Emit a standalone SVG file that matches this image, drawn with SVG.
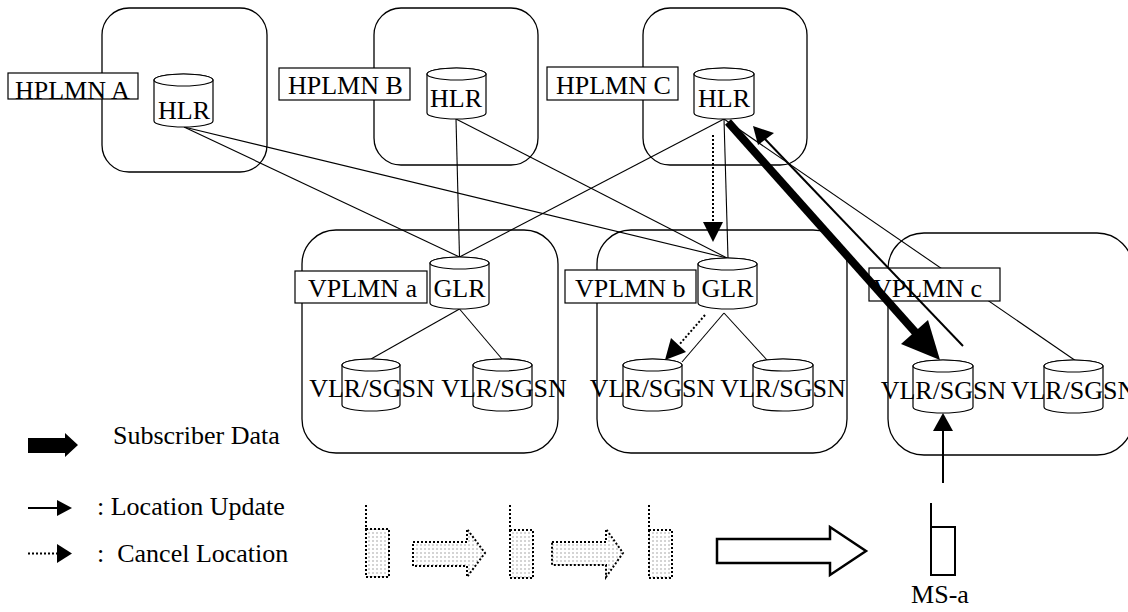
<svg xmlns="http://www.w3.org/2000/svg" width="1128" height="612" viewBox="0 0 1128 612">
<style>
text{font-family:"Liberation Serif","Times New Roman",serif;font-size:26px;fill:#000}
.c{text-anchor:middle}
.region{fill:none;stroke:#000;stroke-width:1.3}
.lbl{fill:#fff;stroke:#000;stroke-width:1.2}
.cyl{fill:#fff;stroke:#000;stroke-width:1.2}
.ln{stroke:#000;stroke-width:1.1;fill:none}
.thin{stroke:#000;stroke-width:2;fill:none}
.dot{stroke:#000;stroke-width:2;stroke-dasharray:2 2;fill:none}
.ah{fill:#000;stroke:none}
.ph{fill:url(#dots);stroke:#000;stroke-width:2;stroke-dasharray:2 2}
</style>
<defs>
<pattern id="dots" width="4" height="4" patternUnits="userSpaceOnUse">
<rect width="4" height="4" fill="#fff"/>
<circle cx="1" cy="1" r="0.7" fill="#888"/>
</pattern>
</defs>
<rect width="1128" height="612" fill="#fff"/>

<g id="regions">
<rect id="hplmnA-box" class="region" x="102" y="8" width="165" height="164" rx="27"/>
<rect id="hplmnB-box" class="region" x="374" y="8" width="164" height="157" rx="27"/>
<rect id="hplmnC-box" class="region" x="643" y="8" width="164" height="157" rx="27"/>
<rect id="vplmna-box" class="region" x="302" y="230" width="256" height="223" rx="34"/>
<rect id="vplmnb-box" class="region" x="597" y="230" width="250" height="223" rx="34"/>
<rect id="vplmnc-box" class="region" x="888" y="233" width="245" height="222" rx="36"/>
</g>

<g id="connectors">
<line class="ln" x1="184" y1="127" x2="459.5" y2="257"/>
<line class="ln" x1="184" y1="127" x2="727" y2="258"/>
<line class="ln" x1="456" y1="119" x2="459.5" y2="257"/>
<line class="ln" x1="456" y1="119" x2="727" y2="258"/>
<line class="ln" x1="724" y1="119" x2="459.5" y2="257"/>
<line class="ln" x1="724" y1="119" x2="728" y2="258"/>
<line class="ln" x1="724" y1="119" x2="1076" y2="361"/>
<line class="ln" x1="459.5" y1="309" x2="371" y2="359"/>
<line class="ln" x1="459.5" y1="309" x2="502" y2="359"/>
<line class="ln" x1="724" y1="313" x2="682" y2="362"/>
<line class="ln" x1="724" y1="313" x2="767" y2="360"/>
</g>

<g id="hplmnA">
<rect class="lbl" x="8" y="73" width="130" height="26"/>
<text x="15" y="99">HPLMN A</text>
</g>
<g id="hlrA">
<path class="cyl" d="M154,80 V121 A29.5,6 0 0 0 213,121 V80 A29.5,6 0 0 0 154,80 Z"/>
<ellipse class="cyl" cx="183.5" cy="80" rx="29.5" ry="6"/>
<text class="c" x="184" y="119">HLR</text>
</g>
<g id="hplmnB">
<rect class="lbl" x="279" y="68" width="131" height="32"/>
<text x="288" y="94">HPLMN B</text>
</g>
<g id="hlrB">
<path class="cyl" d="M427,74 V113 A29.5,6 0 0 0 486,113 V74 A29.5,6 0 0 0 427,74 Z"/>
<ellipse class="cyl" cx="456.5" cy="74" rx="29.5" ry="6"/>
<text class="c" x="456" y="107">HLR</text>
</g>
<g id="hplmnC">
<rect class="lbl" x="547" y="67" width="131" height="33"/>
<text x="556" y="94">HPLMN C</text>
</g>
<g id="hlrC">
<path class="cyl" d="M694,74 V113 A30,6 0 0 0 754,113 V74 A30,6 0 0 0 694,74 Z"/>
<ellipse class="cyl" cx="724" cy="74" rx="30" ry="6"/>
<text class="c" x="724" y="107">HLR</text>
</g>

<g id="vplmna">
<rect class="lbl" x="295" y="271" width="132" height="32"/>
<text x="308" y="297">VPLMN a</text>
</g>
<g id="glra">
<path class="cyl" d="M430,263 V303 A29.5,6 0 0 0 489,303 V263 A29.5,6 0 0 0 430,263 Z"/>
<ellipse class="cyl" cx="459.5" cy="263" rx="29.5" ry="6"/>
<text class="c" x="459.5" y="297">GLR</text>
</g>
<g id="vlra1">
<path class="cyl" d="M342,365 V405 A29,6 0 0 0 400,405 V365 A29,6 0 0 0 342,365 Z"/>
<ellipse class="cyl" cx="371" cy="365" rx="29" ry="6"/>
<text class="c" x="372" y="397">VLR/SGSN</text>
</g>
<g id="vlra2">
<path class="cyl" d="M473,365 V405 A29.5,6 0 0 0 532,405 V365 A29.5,6 0 0 0 473,365 Z"/>
<ellipse class="cyl" cx="502.5" cy="365" rx="29.5" ry="6"/>
<text class="c" x="504" y="397">VLR/SGSN</text>
</g>

<g id="vplmnb">
<rect class="lbl" x="565" y="270" width="131" height="33"/>
<text x="575" y="297">VPLMN b</text>
</g>
<g id="glrb">
<path class="cyl" d="M698,264 V303 A29.5,6 0 0 0 757,303 V264 A29.5,6 0 0 0 698,264 Z"/>
<ellipse class="cyl" cx="727.5" cy="264" rx="29.5" ry="6"/>
<text class="c" x="727.5" y="297">GLR</text>
</g>
<g id="vlrb1">
<path class="cyl" d="M623,365 V405 A29.5,6 0 0 0 682,405 V365 A29.5,6 0 0 0 623,365 Z"/>
<ellipse class="cyl" cx="652.5" cy="365" rx="29.5" ry="6"/>
<text class="c" x="652.5" y="397">VLR/SGSN</text>
</g>
<g id="vlrb2">
<path class="cyl" d="M753,365 V405 A30,6 0 0 0 813,405 V365 A30,6 0 0 0 753,365 Z"/>
<ellipse class="cyl" cx="783" cy="365" rx="30" ry="6"/>
<text class="c" x="783" y="397">VLR/SGSN</text>
</g>

<g id="vplmnc">
<rect class="lbl" x="869" y="268" width="131" height="33"/>
<text x="873" y="297">VPLMN c</text>
</g>
<g id="vlrc1">
<path class="cyl" d="M913,366 V407 A30,6 0 0 0 973,407 V366 A30,6 0 0 0 913,366 Z"/>
<ellipse class="cyl" cx="943" cy="366" rx="30" ry="6"/>
<text class="c" x="943.5" y="399">VLR/SGSN</text>
</g>
<g id="vlrc2">
<path class="cyl" d="M1044,366 V407 A29.5,6 0 0 0 1103,407 V366 A29.5,6 0 0 0 1044,366 Z"/>
<ellipse class="cyl" cx="1073.5" cy="366" rx="29.5" ry="6"/>
<text class="c" x="1073.5" y="399">VLR/SGSN</text>
</g>

<g id="flows">
<line x1="728" y1="122" x2="916" y2="333" stroke="#000" stroke-width="8"/>
<polygon class="ah" points="940,360 901,344 928,320"/>
<line class="thin" x1="963" y1="346" x2="764" y2="138"/>
<polygon class="ah" points="753,126 758,145 774,133"/>
<line class="dot" x1="713" y1="135" x2="713" y2="223"/>
<polygon class="ah" points="703,222 723,222 713,242"/>
<line class="dot" x1="705" y1="315" x2="679" y2="345"/>
<polygon class="ah" points="665,360 671,338 686,352"/>
<line class="thin" x1="943" y1="483" x2="943" y2="430"/>
<polygon class="ah" points="933,431 953,431 943,413"/>
</g>

<g id="legend">
<polygon class="ah" points="28,438 65,438 65,433 78,445 65,457 65,453 28,453"/>
<text x="113" y="444">Subscriber Data</text>
<line class="thin" x1="28" y1="508" x2="58" y2="508"/>
<polygon class="ah" points="57,500 72,508 57,516"/>
<text x="97" y="515">: Location Update</text>
<line class="dot" x1="28" y1="553.5" x2="58" y2="553.5"/>
<polygon class="ah" points="57,544 72,553.5 57,563"/>
<text x="97" y="562" xml:space="preserve">:  Cancel Location</text>
</g>

<g id="movement">
<line class="dot" x1="366" y1="505" x2="366" y2="529"/>
<rect class="ph" x="366" y="529" width="23" height="48"/>
<polygon class="ph" points="413,542 467,542 467,529 485,553 467,577 467,566 413,566"/>
<line class="dot" x1="510" y1="505" x2="510" y2="530"/>
<rect class="ph" x="510" y="530" width="23" height="48"/>
<polygon class="ph" points="552,542 606,542 606,529 623,553 606,577 606,565 552,565"/>
<line class="dot" x1="649" y1="505" x2="649" y2="530"/>
<rect class="ph" x="649" y="530" width="23" height="48"/>
<polygon points="717,539 830,539 830,527 866,551 830,575 830,563 717,563" fill="#fff" stroke="#000" stroke-width="2.5"/>
</g>

<g id="msa">
<line class="thin" x1="931" y1="503" x2="931" y2="527"/>
<rect x="931" y="527" width="24" height="48" fill="#fff" stroke="#000" stroke-width="2"/>
<text class="c" x="940" y="603">MS-a</text>
</g>
</svg>
